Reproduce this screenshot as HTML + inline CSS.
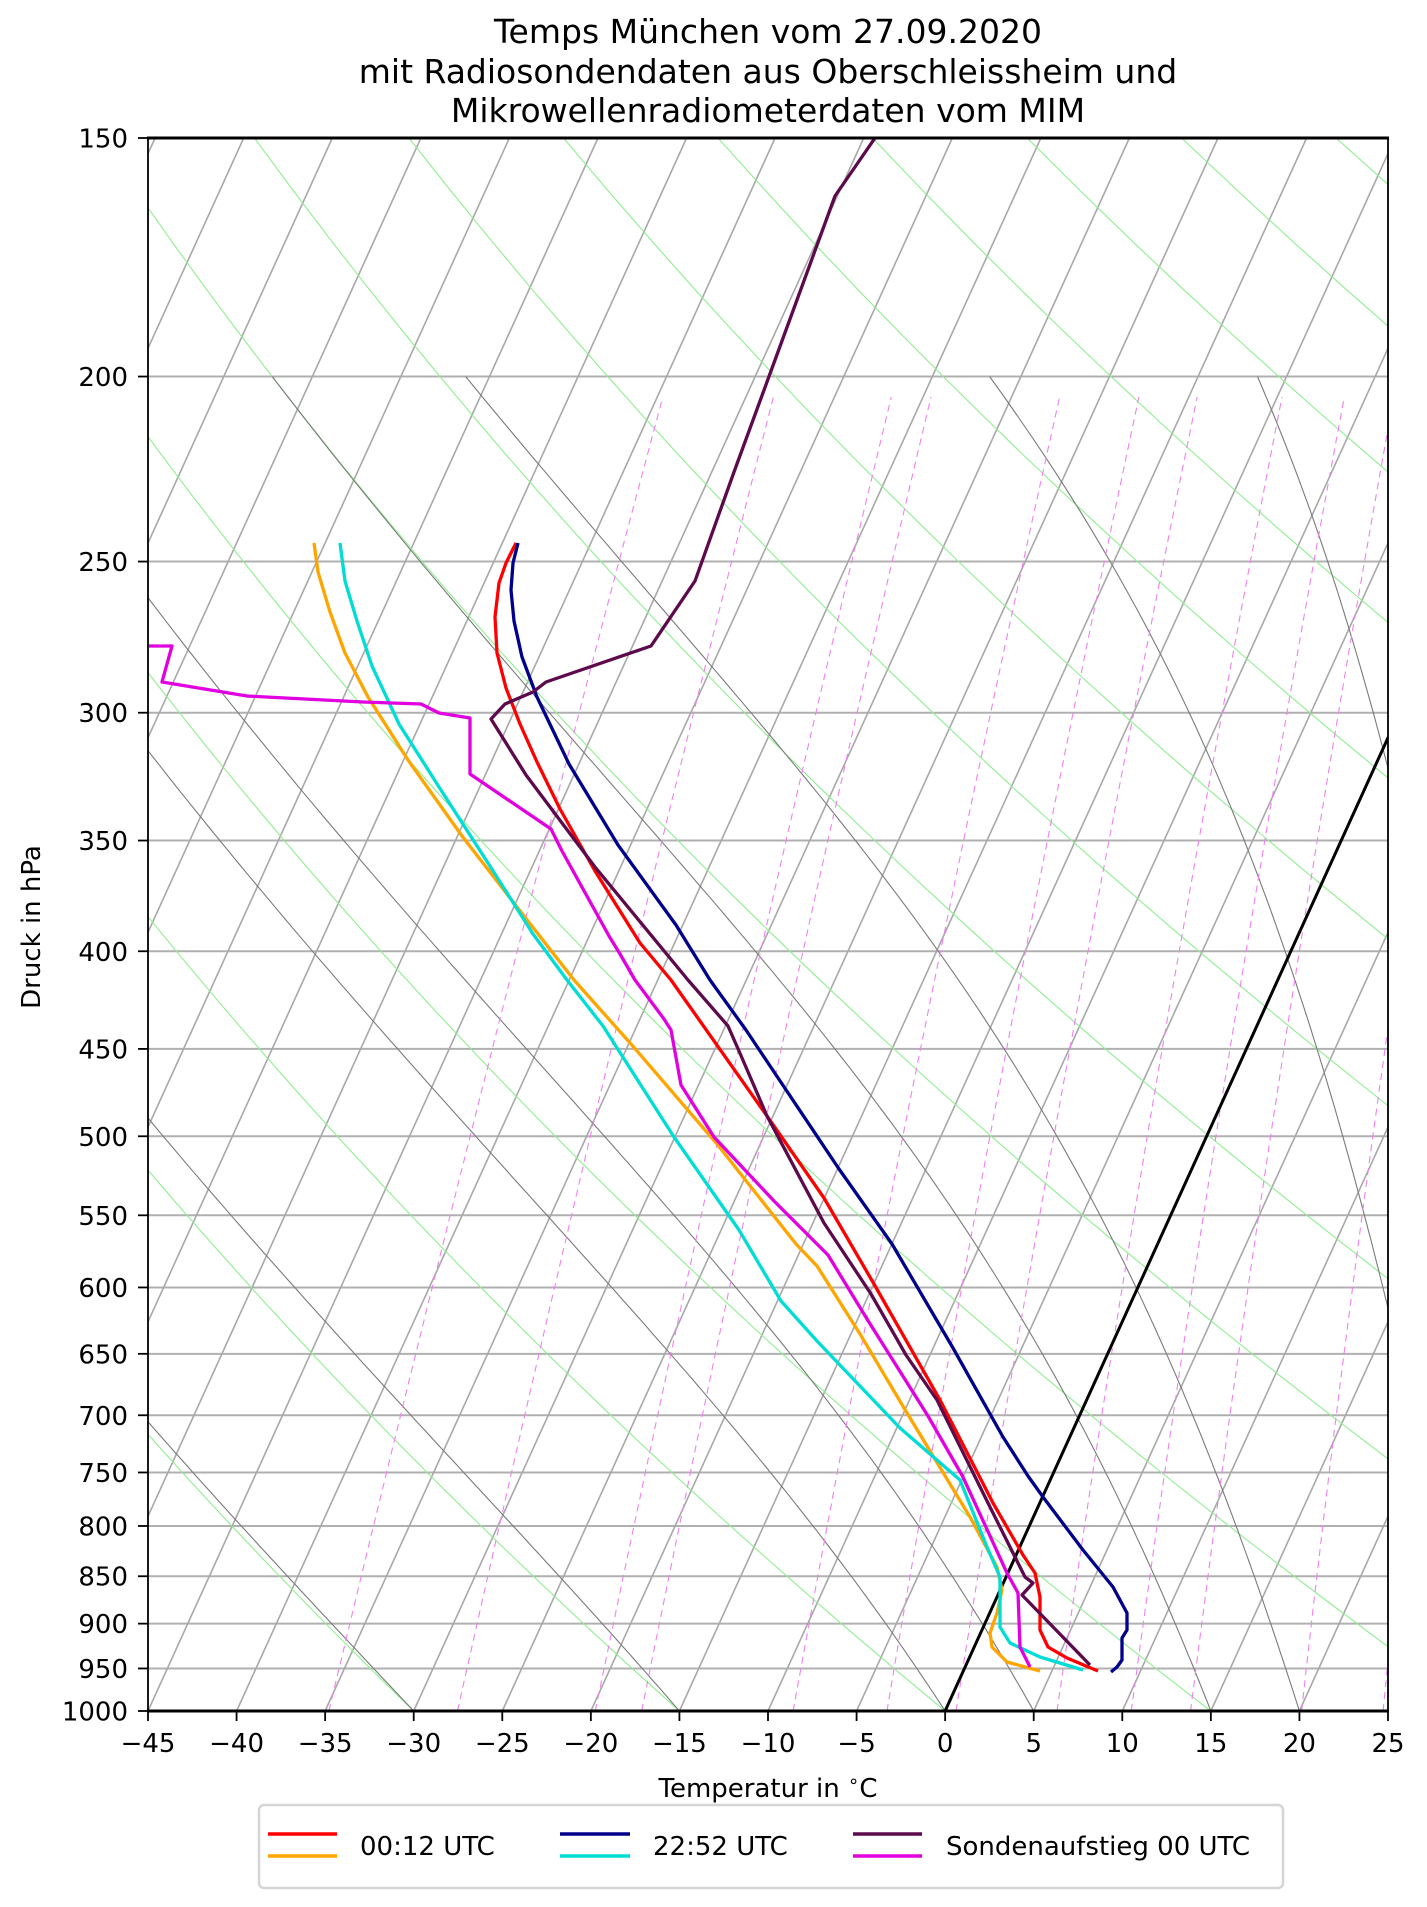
<!DOCTYPE html>
<html><head><meta charset="utf-8">
<style>
html,body{margin:0;padding:0;background:#fff;}
svg{display:block;}
text{font-family:"DejaVu Sans","Liberation Sans",sans-serif;fill:#000;}
</style></head>
<body>
<svg id="s" xmlns="http://www.w3.org/2000/svg" width="1427" height="1907" viewBox="0 0 1427 1907">
<defs><clipPath id="cp"><rect x="148" y="138" width="1240" height="1573"/></clipPath></defs>
<rect width="1427" height="1907" fill="#fff"/>
<g id="bg" clip-path="url(#cp)"></g>
<g id="data" clip-path="url(#cp)" fill="none" stroke-width="3.3" stroke-linejoin="round">
<polyline stroke="#ffa500" points="314,543 318,572 330,612 345,653 368,697 408,760 462,836 524,916 574,980 631,1044 717,1144 796,1244 817,1266 860,1334 907,1413 970,1517 997,1567 1002,1590 997,1613 990,1633 992,1647 1007,1662 1040,1671"/>
<polyline stroke="#00ddd5" points="340,543 345,581 357,621 372,666 399,724 439,787 488,863 533,934 567,980 603,1026 674,1137 739,1230 781,1301 817,1341 900,1428 960,1480 987,1547 1000,1577 1000,1627 1010,1643 1040,1657 1083,1670"/>
<polyline stroke="#e000e0" points="149,646 172,646 162,682 247,696 363,702 421,704 439,713 470,718 470,774 551,829 562,851 609,936 620,954 635,980 664,1019 671,1030 681,1085 714,1137 774,1201 828,1255 867,1319 928,1416 963,1477 1007,1573 1018,1593 1020,1647 1030,1667"/>
<polyline stroke="#ff0000" points="516,543 506,563 499,583 495,617 497,653 506,688 520,724 537,762 560,809 595,871 640,943 671,980 767,1116 824,1198 874,1284 940,1400 993,1503 1023,1555 1035,1573 1040,1597 1040,1630 1048,1647 1067,1658 1098,1671"/>
<polyline stroke="#00008b" points="518,543 513,563 511,590 514,621 522,657 537,697 569,764 618,845 676,925 710,980 746,1030 839,1169 892,1244 953,1348 1003,1437 1028,1476 1043,1497 1083,1550 1113,1587 1127,1613 1127,1630 1122,1638 1122,1660 1117,1667 1111,1672"/>
<polyline stroke="#5c0a4c" points="875,138 835,196 771,371 734,472 695,581 651,646 546,682 533,692 505,704 491,719 526,775 595,867 688,980 728,1026 739,1051 767,1116 824,1223 871,1294 906,1355 937,1400 990,1507 1025,1577 1033,1583 1022,1595 1090,1665"/>
</g>
<g id="ax"></g>
<text x="768" y="43" font-size="33" text-anchor="middle">Temps München vom 27.09.2020</text>
<text x="768" y="83" font-size="33" text-anchor="middle">mit Radiosondendaten aus Oberschleissheim und</text>
<text x="768" y="122" font-size="33" text-anchor="middle">Mikrowellenradiometerdaten vom MIM</text>
<text x="0" y="0" font-size="26" text-anchor="middle" transform="translate(40,927) rotate(-90)">Druck in hPa</text>
<text x="768" y="1797" font-size="26" text-anchor="middle">Temperatur in <tspan font-size="18" dy="-10">∘</tspan><tspan dy="10">C</tspan></text>
<rect x="259" y="1805" width="1024" height="83" rx="5" fill="#fff" stroke="#d5d5d5" stroke-width="2.5"/>
<line x1="268" y1="1834" x2="337" y2="1834" stroke="#ff0000" stroke-width="3.6"/>
<line x1="268" y1="1856" x2="337" y2="1856" stroke="#ffa500" stroke-width="3.6"/>
<text x="360" y="1855" font-size="26">00:12 UTC</text>
<line x1="560" y1="1834" x2="630" y2="1834" stroke="#00008b" stroke-width="3.6"/>
<line x1="560" y1="1856" x2="630" y2="1856" stroke="#00ddd5" stroke-width="3.6"/>
<text x="653" y="1855" font-size="26">22:52 UTC</text>
<line x1="853" y1="1834" x2="922" y2="1834" stroke="#5c0a4c" stroke-width="3.6"/>
<line x1="853" y1="1856" x2="922" y2="1856" stroke="#e000e0" stroke-width="3.6"/>
<text x="946" y="1855" font-size="26">Sondenaufstieg 00 UTC</text>
</svg>
<script>
(function(){
var NS="http://www.w3.org/2000/svg";
var L=148,R=1388,T=138,B=1711,kx=(R-L)/70,sk=0.455,LN=Math.log(1000/150);
function Y(p){return B-Math.log(1000/p)/LN*(B-T);}
function X(t,p){return L+(t+45)*kx+sk*(B-Y(p));}
var bg=document.getElementById('bg'),ax=document.getElementById('ax');
function el(par,name,attrs,txt){var e=document.createElementNS(NS,name);for(var k in attrs)e.setAttribute(k,attrs[k]);if(txt!=null)e.textContent=txt;par.appendChild(e);return e;}
function poly(par,pts,attrs){attrs.points=pts.map(function(q){return q[0].toFixed(1)+','+q[1].toFixed(1);}).join(' ');attrs.fill='none';return el(par,'polyline',attrs);}
var ticks=[150,200,250,300,350,400,450,500,550,600,650,700,750,800,850,900,950,1000];
ticks.forEach(function(p){el(bg,'line',{x1:L,x2:R,y1:Y(p),y2:Y(p),stroke:'#b0b0b0','stroke-width':2});});
for(var t=-160;t<=25;t+=5){poly(bg,[[X(t,1000),Y(1000)],[X(t,150),Y(150)]],{stroke:'#a8a8a8','stroke-width':1.6});}
var ps=[];for(var p=1000;p>=150;p-=10)ps.push(p);
for(var th=-30;th<=300;th+=15){var pts=ps.map(function(p){var tk=(th+273.15)*Math.pow(p/1000,0.2857)-273.15;return [X(tk,p),Y(p)];});poly(bg,pts,{stroke:'#90ee90','stroke-width':1.1});}
function es(tc){return 6.112*Math.exp(17.67*tc/(tc+243.5));}
function dtdp(tk,p){var tc=tk-273.15,e=es(tc),rs=0.622*e/(p-e),Rd=287.04,Lv=2.501e6,Cp=1005.7;return (1/p)*(Rd*tk+Lv*rs)/(Cp+Lv*Lv*rs*0.622/(Rd*tk*tk));}
[-30,-15,0,5,15,20,30,35].forEach(function(t0){var tk=t0+273.15,p=1000,pts=[[X(t0,1000),Y(1000)]];var dp=-5;while(p>200){var k1=dtdp(tk,p),k2=dtdp(tk+k1*dp,p+dp);tk+=0.5*(k1+k2)*dp;p+=dp;pts.push([X(tk-273.15,p),Y(p)]);}poly(bg,pts,{stroke:'#7a7a7a','stroke-width':1.1});});
[0.2,0.4,0.8,1,2,3,4,6,8,10,15,20].forEach(function(w){var pts=[];for(var p=1000;p>=205;p-=15){var e=w/1000*p/(0.622+w/1000),a=Math.log(e/6.112),td=243.5*a/(17.67-a);pts.push([X(td,p),Y(p)]);}poly(bg,pts,{stroke:'#ee82ee','stroke-width':1.1,'stroke-dasharray':'7,5'});});
poly(bg,[[X(0,1000),Y(1000)],[X(0,150),Y(150)]],{stroke:'#000','stroke-width':3});
el(ax,'line',{x1:L,x2:L,y1:T,y2:B,stroke:'#000','stroke-width':1.8});
el(ax,'line',{x1:R,x2:R,y1:T,y2:B,stroke:'#000','stroke-width':1.8});
el(ax,'line',{x1:L-1,x2:R+1,y1:T,y2:T,stroke:'#000','stroke-width':3});
el(ax,'line',{x1:L-1,x2:R+1,y1:B,y2:B,stroke:'#000','stroke-width':3});
ticks.forEach(function(p){var y=Y(p);el(ax,'line',{x1:L-10,x2:L,y1:y,y2:y,stroke:'#000','stroke-width':1.8});el(ax,'text',{x:128,y:y+9.5,'font-size':26,'text-anchor':'end'},String(p));});
for(var t=-45;t<=25;t+=5){var x=L+(t+45)*kx;el(ax,'line',{x1:x,x2:x,y1:B,y2:B+10,stroke:'#000','stroke-width':1.8});el(ax,'text',{x:x,y:1752,'font-size':26,'text-anchor':'middle'},(t<0?'\u2212':'')+Math.abs(t));}
})();
</script>
</body></html>
